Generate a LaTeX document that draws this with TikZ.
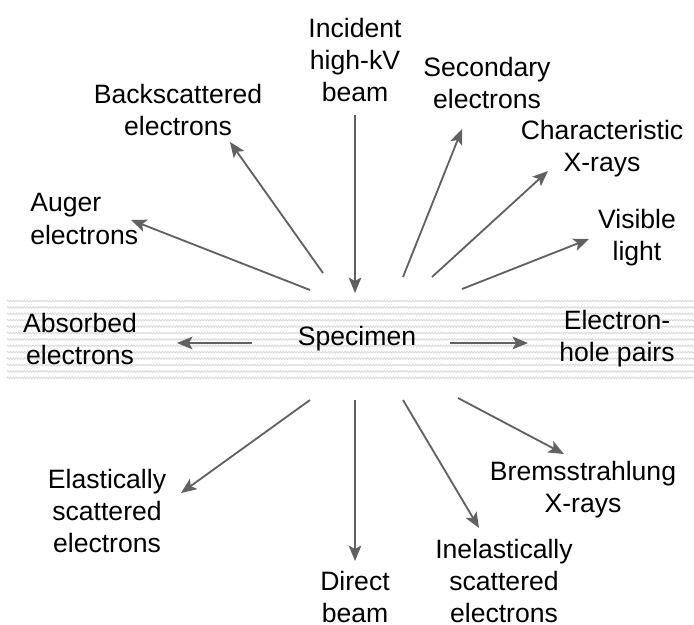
\documentclass[tikz,border=0pt]{standalone}
\usepackage{fontspec}
\setmainfont{Liberation Sans}
\usetikzlibrary{arrows.meta,decorations.pathmorphing}

\begin{document}
\begin{tikzpicture}[x=0.025cm,y=-0.025cm,
    lbl/.style={align=center,inner sep=0pt,font=\fontsize{18.9}{22.8}\selectfont},
    ray/.style={draw=black!62,line width=1.3pt,-{Stealth[length=11pt,width=9pt,inset=2.5pt]}},
    band/.style={gray!30,line width=0.6pt,decorate,decoration={zigzag,amplitude=0.6pt,segment length=2pt}}]
      \useasboundingbox (0,0) rectangle (694,624);

      % Specimen band
      \foreach \y in {301,307.4,...,381}
        \draw[band] (7,\y) -- (694,\y);

      % Labels
      \node[lbl] (spec) at (357,339) {Specimen};
      \node[lbl] (inc) at (355,60) {Incident\\high-kV\\beam};
      \node[lbl] (bse) at (178,110) {Backscattered\\electrons};
      \node[lbl,align=left,anchor=west] (aug) at (30,219) {Auger\\electrons};
      \node[lbl] (sec) at (487,83) {Secondary\\electrons};
      \node[lbl] (xray) at (602,149) {Characteristic\\X-rays};
      \node[lbl] (vis) at (637,238) {Visible\\light};
      \node[lbl] (abs) at (80,339) {Absorbed\\electrons};
      \node[lbl] (ehp) at (617,339) {Electron-\\hole pairs};
      \node[lbl] (ela) at (107,511) {Elastically\\scattered\\electrons};
      \node[lbl] (dir) at (355,597) {Direct\\beam};
      \node[lbl] (ine) at (504,581) {Inelastically\\scattered\\electrons};
      \node[lbl] (brem) at (583,490) {Bremsstrahlung\\X-rays};

      % Ray ends
      \coordinate (inc0) at (355,115);  \coordinate (inc1) at (355,293);
      \coordinate (bse0) at (323,273);  \coordinate (bse1) at (230,142);
      \coordinate (aug0) at (310,290);  \coordinate (aug1) at (131,220);
      \coordinate (sec0) at (403,277);  \coordinate (sec1) at (462,129);
      \coordinate (xray0) at (432,277); \coordinate (xray1) at (548,171);
      \coordinate (vis0) at (462,289);  \coordinate (vis1) at (589,239);
      \coordinate (abs0) at (252,343);  \coordinate (abs1) at (177,343);
      \coordinate (ehp0) at (450,343);  \coordinate (ehp1) at (528,343);
      \coordinate (ela0) at (310,400);  \coordinate (ela1) at (181,493);
      \coordinate (dir0) at (355,400);  \coordinate (dir1) at (355,561);
      \coordinate (ine0) at (403,400);  \coordinate (ine1) at (479,528);
      \coordinate (brem0) at (458,398); \coordinate (brem1) at (564,454);

      % Rays
      \foreach \r in {inc,bse,aug,sec,xray,vis,abs,ehp,ela,dir,ine,brem}
        \draw[ray] (\r0) -- (\r1);
    \end{tikzpicture}
\end{document}
